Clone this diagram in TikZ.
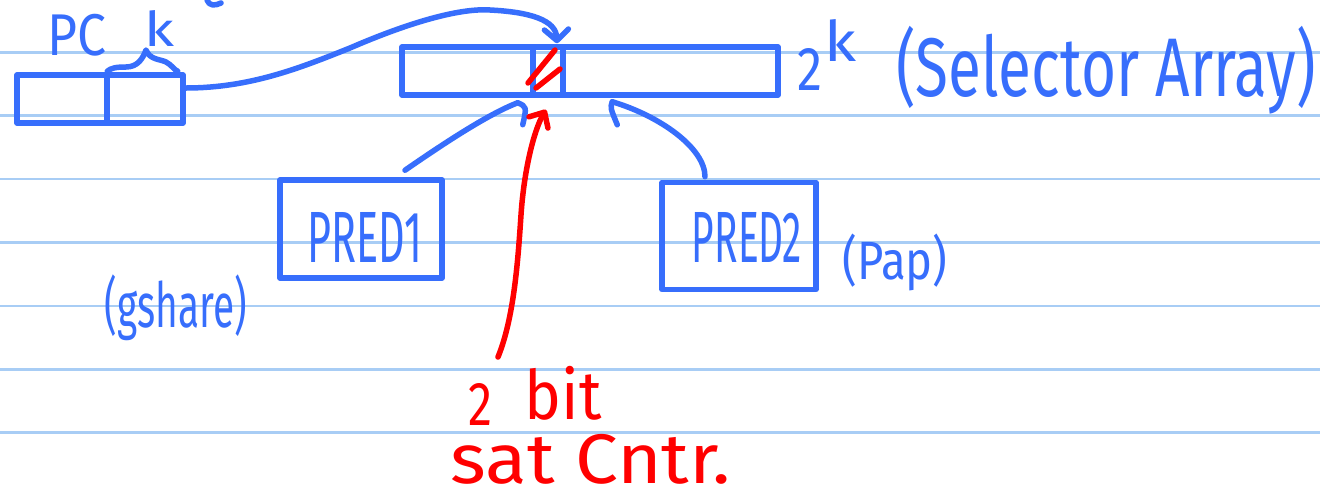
\documentclass[tikz,border=0pt]{standalone}
\usepackage{fontspec}
\setmainfont{Fira Sans}
\usetikzlibrary{arrows.meta,calc}
\definecolor{ink}{RGB}{55,110,252}
\definecolor{redink}{RGB}{255,0,0}
\definecolor{rulecol}{RGB}{168,205,245}
% squeeze a handwritten-style label into a given width and height
\newcommand{\hand}[3]{\resizebox*{#1pt}{#2pt}{#3}}
\tikzset{
  pen/.style={draw=ink, line width=5.5pt, line cap=round, line join=round},
  redpen/.style={draw=redink, line width=5.5pt, line cap=round, line join=round},
  cellbox/.style={pen, rectangle, inner sep=0pt},
  bluetxt/.style={text=ink, inner sep=0pt},
  redtxt/.style={text=redink, inner sep=0pt},
  ruling/.style={draw=rulecol, line width=2.5pt},
  vbarb/.style={-{Straight Barb[length=11pt,width=24pt,round]}},
}
\begin{document}
\begin{tikzpicture}[x=1pt,y=-1pt]
\useasboundingbox[fill=white] (0,0) rectangle (1320,496);

% ruled paper
\foreach \yy in {52.3,115.7,179.1,242.5,305.9,369.3,432.7}
  \draw[ruling] (0,\yy) -- (1320,\yy);

% stray stroke at the top edge
\draw[pen] (207,0) .. controls (209,6) and (215,6) .. (221,3);

% PC register: high bits and low k bits
\node[cellbox, minimum width=90pt, minimum height=48pt] (pchi) at (62,99) {};
\node[cellbox, minimum width=76pt, minimum height=48pt] (pclo) at (145,99) {};
\node[bluetxt] (pclbl) at (77,35) {\hand{59}{42}{PC}};
\node[bluetxt] (klbl) at (160,28) {\hand{30}{36}{k}};
% brace over the k low bits
\draw[pen] ($(pclo.north west)+(3,-1)$) .. controls (111,68) and (116,67) .. (126,67)
  .. controls (138,67) and (143,58) .. (146,50)
  .. controls (150,60) and (160,59) .. (166,62)
  .. controls (172,65) and (174,70) .. ($(pclo.north east)+(-8,-1)$);

% selector array with the indexed entry
\node[cellbox, minimum width=131pt, minimum height=48pt] (selL) at (467.5,71) {};
\node[cellbox, minimum width=30pt, minimum height=48pt] (cell) at (548,71) {};
\node[cellbox, minimum width=215pt, minimum height=48pt] (selR) at (670.5,71) {};
\draw[redpen] ($(cell.center)+(7,-21)$) -- ($(cell.center)+(-20,12)$);
\draw[redpen] ($(cell.center)+(12,-2)$) -- ($(cell.center)+(-12,17)$);

\node[bluetxt] (two) at (810,69) {\hand{25}{42}{2}};
\node[bluetxt] (kexp) at (840,40) {\hand{32}{42}{k}};
\node[bluetxt] (sellbl) at (1106,70) {\hand{419}{88}{(Selector Array)}};

% index from the PC into the selector array
\coordinate (selin) at ($(cell.north)+(9,-1)$);
\draw[pen, vbarb] ([yshift=11pt]pclo.east) .. controls (250,88) and (300,68) .. (350,48)
  .. controls (410,22) and (460,8) .. (490,10)
  .. controls (530,12) and (556,20) .. (selin);

% the two predictors
\node[cellbox, minimum width=162pt, minimum height=98pt] (p1) at (361,229) {};
\node[bluetxt] (p1lbl) at (365,237) {\hand{115}{50}{PRED1}};
\node[bluetxt] (gsh) at (176,308) {\hand{142}{66}{(gshare)}};

\node[cellbox, minimum width=154pt, minimum height=107pt] (p2) at (739,236) {};
\node[bluetxt] (p2lbl) at (747,237) {\hand{110}{50}{PRED2}};
\node[bluetxt] (pap) at (895,262) {\hand{105}{57}{(Pap)}};

% predictor updates into the array
\coordinate (p1in) at ([xshift=-18pt,yshift=-5pt]selL.south east);
\draw[pen] ([xshift=44pt,yshift=7pt]p1.north) .. controls (440,146) and (488,114) .. (p1in);
\draw[pen] (p1in) .. controls ($(p1in)+(9,4)$) .. ($(p1in)+(5,22)$);

\coordinate (p2in) at ([xshift=52pt,yshift=-4pt]selR.south west);
\draw[pen] ([xshift=-34pt,yshift=3pt]p2.north) .. controls (705,148) and (660,116) .. (p2in);
\draw[pen] (p2in) .. controls ($(p2in)+(-2,6)$) .. ($(p2in)+(5,23)$);

% 2-bit saturating counter
\node[redtxt] (cnt2) at (480,404) {\hand{24}{42}{2}};
\node[redtxt] (bitlbl) at (563,393) {\hand{77}{54}{bit}};
\node[redtxt] (satlbl) at (591,459) {\hand{280}{50}{sat Cntr.}};
\coordinate (cfoot) at (498,357);
\coordinate (cellin) at ([xshift=-2pt,yshift=-12pt]cell.south);
\draw[redpen, -{Straight Barb[length=12pt,width=22pt,round]}] (cfoot)
  .. controls (514,318) and (518,260) .. (521,215)
  .. controls (524,170) and (534,130) .. (cellin);
\end{tikzpicture}
\end{document}
